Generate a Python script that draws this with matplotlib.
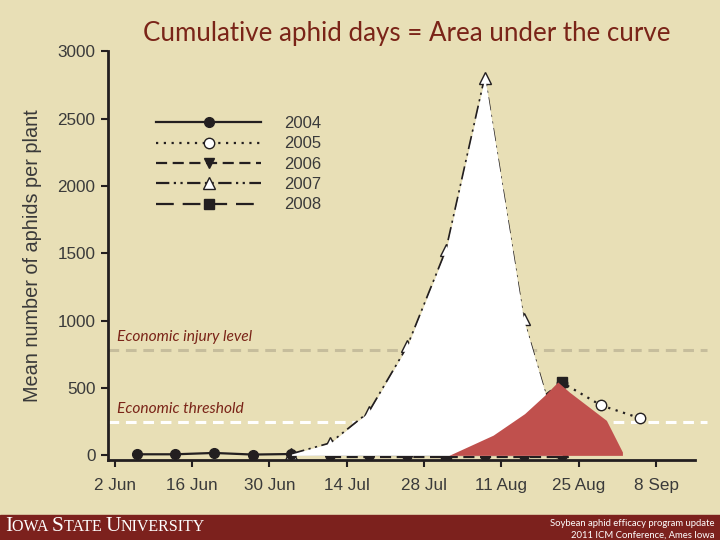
import matplotlib
matplotlib.use("Agg")
import matplotlib.pyplot as plt
from matplotlib.patches import Rectangle

# sampling dates, as days after 2 Jun
days_2004 = [4, 11, 18, 25, 32, 39, 46, 53, 60, 67, 74, 81]
vals_2004 = [8, 8, 18, 6, 10, 4, 3, 3, 3, 3, 3, 3]
days_2005 = [74, 81, 88, 95]
vals_2005 = [160, 540, 372, 277]
days_2006 = [39, 46, 53, 60, 67, 74, 81]
vals_2006 = [-10, -10, -10, -10, -10, -10, -10]
days_2007 = [32, 39, 46, 53, 60, 67, 74, 81]
vals_2007 = [10, 90, 320, 810, 1525, 2805, 1010, 30]
days_2008 = [60, 67, 74, 81]
vals_2008 = [0, 110, 320, 545]

# red highlight shape drawn over the 2008 peak
red_days = [60.5, 68.5, 74.2, 77.8, 80.2, 82.3, 89.0, 91.9]
red_vals = [0, 150, 310, 445, 545, 470, 260, 25]

eil, et = 780, 250
tick_days = [0, 14, 28, 42, 56, 70, 84, 98]
tick_labels = ["2 Jun", "16 Jun", "30 Jun", "14 Jul", "28 Jul", "11 Aug", "25 Aug", "8 Sep"]

bg = "#e8dfb6"
ink = "#231f20"
maroon = "#7a2418"
plt.rcParams["font.family"] = ["Liberation Sans", "DejaVu Sans"]

fig = plt.figure(figsize=(7.2, 5.4), dpi=100, facecolor=bg)
ax = fig.add_axes([0.15, 0.148, 0.815, 0.757], facecolor=bg)

lw = 1.6
ax.plot(days_2005, vals_2005, color=ink, lw=lw, ls=(0, (1, 2.5)), marker="o", ms=7.5,
        mfc="white", mec=ink, mew=1, label="2005", zorder=2)
ax.plot(days_2006, vals_2006, color=ink, lw=lw, ls=(0, (5, 2.5)), marker="v", ms=7.5,
        mfc=ink, mec=ink, label="2006", zorder=2)
ax.plot(days_2007, vals_2007, color=ink, lw=lw, ls=(0, (6, 2, 1, 2, 1, 2)), marker="^", ms=8,
        mfc="white", mec=ink, mew=1, label="2007", zorder=2)
ax.plot(days_2008, vals_2008, color=ink, lw=lw, ls=(0, (8, 4)), marker="s", ms=7,
        mfc=ink, mec=ink, label="2008", zorder=2.2)
ax.plot(days_2004, vals_2004, color=ink, lw=lw, ls="-", marker="o", ms=7,
        mfc=ink, mec=ink, label="2004", zorder=2.3)

ax.axhline(eil, xmin=0, xmax=1.02, color="#c6bd9c", lw=2.2, ls=(0, (3.5, 2.2)), clip_on=False, zorder=1.5)
ax.axhline(et, xmin=0, xmax=1.02, color="white", lw=2.2, ls=(0, (3.5, 2.2)), clip_on=False, zorder=1.5)

ax.fill_between(days_2007, 0, vals_2007, color="white", lw=0, zorder=3)
ax.fill_between(red_days, 0, red_vals, color="#c0504d", lw=0, zorder=4)

ax.text(0.4, 830, "Economic injury level", style="italic", color=maroon, fontsize=11.2,
        family="Lato", va="bottom")
ax.text(0.4, 295, "Economic threshold", style="italic", color=maroon, fontsize=11.2,
        family="Lato", va="bottom")

ax.set_xlim(-1.2, 105)
ax.set_ylim(-35, 3000)
ax.set_xticks(tick_days)
ax.set_xticklabels(tick_labels)
ax.set_yticks([0, 500, 1000, 1500, 2000, 2500, 3000])
ax.tick_params(colors=ink, labelcolor="#3a3a3a", labelsize=12.3, width=1.5, length=5, direction="out")
ax.tick_params(axis="x", pad=8)
ax.tick_params(axis="y", pad=4)
ax.set_ylabel("Mean number of aphids per plant", fontsize=14.3, color="#3a3a3a", labelpad=11)
for s in ["top", "right"]:
    ax.spines[s].set_visible(False)
for s in ["left", "bottom"]:
    ax.spines[s].set_linewidth(2)
    ax.spines[s].set_color(ink)

h, l = ax.get_legend_handles_labels()
order = [l.index(y) for y in ["2004", "2005", "2006", "2007", "2008"]]
ax.legend([h[i] for i in order], [l[i] for i in order], loc="upper left",
          bbox_to_anchor=(0.068, 0.862), frameon=False, fontsize=12, handlelength=6.3,
          handletextpad=1.4, labelspacing=0.32, borderpad=0, numpoints=1, labelcolor="#3a3a3a")

fig.text(0.565, 0.938, "Cumulative aphid days = Area under the curve", ha="center", va="center",
         fontsize=18.6, color=maroon, family="Lato")

# footer band
fig.patches.append(Rectangle((0, 0), 1, 25 / 540, transform=fig.transFigure, color="#7c211d", zorder=0))
r = fig.canvas.get_renderer()
x = 5
for piece, size in [("I", 15.5), ("OWA ", 11.5), ("S", 15.5), ("TATE ", 11.5), ("U", 15.5), ("NIVERSITY", 11.5)]:
    t = fig.text(x / 720, 0.017, piece, fontsize=size, color="white", family="Liberation Serif",
                 va="baseline")
    x += t.get_window_extent(r).width
fig.text(0.993, 0.031, "Soybean aphid efficacy program update", ha="right", va="center",
         fontsize=6.8, color="white", family="Lato")
fig.text(0.993, 0.009, "2011 ICM Conference, Ames Iowa", ha="right", va="center",
         fontsize=6.8, color="white", family="Lato")

fig.savefig("out.png", dpi=100, facecolor=bg)
